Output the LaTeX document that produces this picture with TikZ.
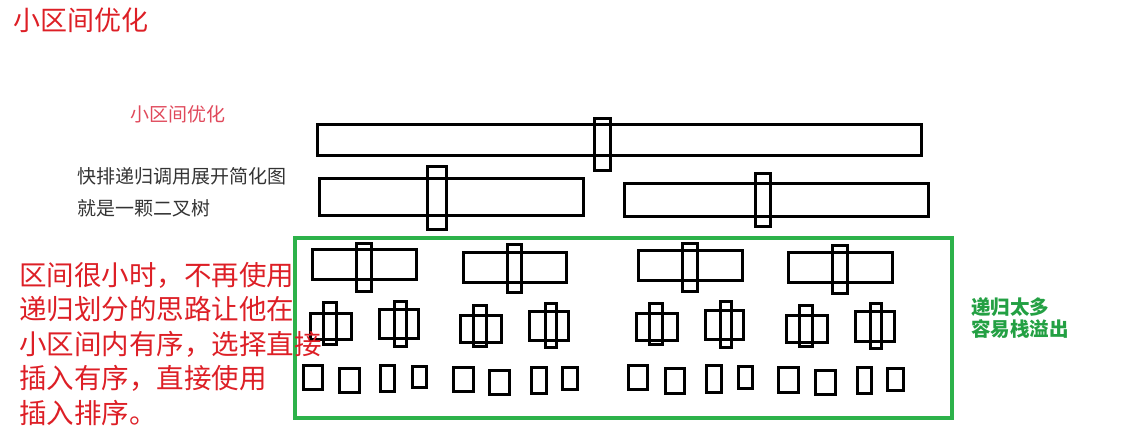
\documentclass[tikz,border=0pt]{standalone}
\usepackage{fontspec}
\setmainfont{Noto Sans CJK SC}
\begin{document}
\begin{tikzpicture}[x=1pt,y=-1pt,
  bar/.style={draw=black,line width=3pt},
  frame/.style={draw=gboxc,line width=4pt},
  txt/.style={inner sep=0pt,anchor=west,align=left}]
\definecolor{titlered}{HTML}{DD1F26}
\definecolor{pinkred}{HTML}{E0495B}
\definecolor{darkgray}{HTML}{333333}
\definecolor{gboxc}{HTML}{2DB24A}
\definecolor{gtext}{HTML}{23A043}
\useasboundingbox (0,0) rectangle (1121,444);
% title
\node[txt,text=titlered,font=\fontsize{27}{30}\selectfont] (title) at (13,20) {小区间优化};
\node[txt,text=pinkred,font=\fontsize{19}{22}\selectfont] (sub) at (130,114) {小区间优化};
\node[txt,text=darkgray,font=\fontsize{19}{32}\selectfont] (desc) at (77,192) {快排递归调用展开简化图\\就是一颗二叉树};
% level 1
\draw[bar] (317,124) rectangle (921,155);
\draw[bar] (594,118) rectangle (610,170);
% level 2
\draw[bar] (319,178) rectangle (583,215);
\draw[bar] (427,166) rectangle (446,229);
\draw[bar] (624,183) rectangle (928,216);
\draw[bar] (755,173) rectangle (770,226);
% green frame
\draw[frame] (295,238) rectangle (952,418);
% level 3
\foreach \a/\b/\c/\d/\e/\f/\g/\h in {
  312/249/416/279/356/243/371/291,
  463/252/566/282/507/244/521/292,
  638/250/742/280/682/243/697/291,
  788/252/892/282/832/245/847/293}{
  \draw[bar] (\a,\b) rectangle (\c,\d);
  \draw[bar] (\e,\f) rectangle (\g,\h);
}
% level 4
\foreach \a/\b/\c/\d/\e/\f/\g/\h in {
  310/313/351/339/323/302/336/344,
  379/309/418/338/394/301/406/346,
  460/315/501/342/473/305/486/346,
  529/311/568/340/545/303/556/347,
  636/313/677/340/649/303/662/344,
  705/310/743/339/720/301/731/347,
  786/315/827/342/799/305/812/346,
  855/311/894/341/870/303/881/348}{
  \draw[bar] (\a,\b) rectangle (\c,\d);
  \draw[bar] (\e,\f) rectangle (\g,\h);
}
% level 5
\foreach \a/\b/\c/\d in {
  303/365/322/389, 339/368/359/392, 380/365/394/391, 412/366/426/387,
  453/367/473/391, 489/370/509/394, 531/367/546/393, 562/367/577/389,
  628/365/647/389, 665/368/684/393, 706/365/721/392, 738/366/752/388,
  778/367/798/392, 815/370/835/394, 857/367/871/393, 887/368/903/390}{
  \draw[bar] (\a,\b) rectangle (\c,\d);
}
% notes
\node[txt,text=titlered,font=\fontsize{27.5}{34.5}\selectfont] (note) at (19,344)
  {区间很小时，不再使用\\递归划分的思路让他在\\小区间内有序，选择直接\\插入有序，直接使用\\插入排序。};
\node[txt,text=gtext,font=\bfseries\fontsize{19.5}{22}\selectfont] (warn) at (971,318)
  {递归太多\\容易栈溢出};
\end{tikzpicture}
\end{document}
